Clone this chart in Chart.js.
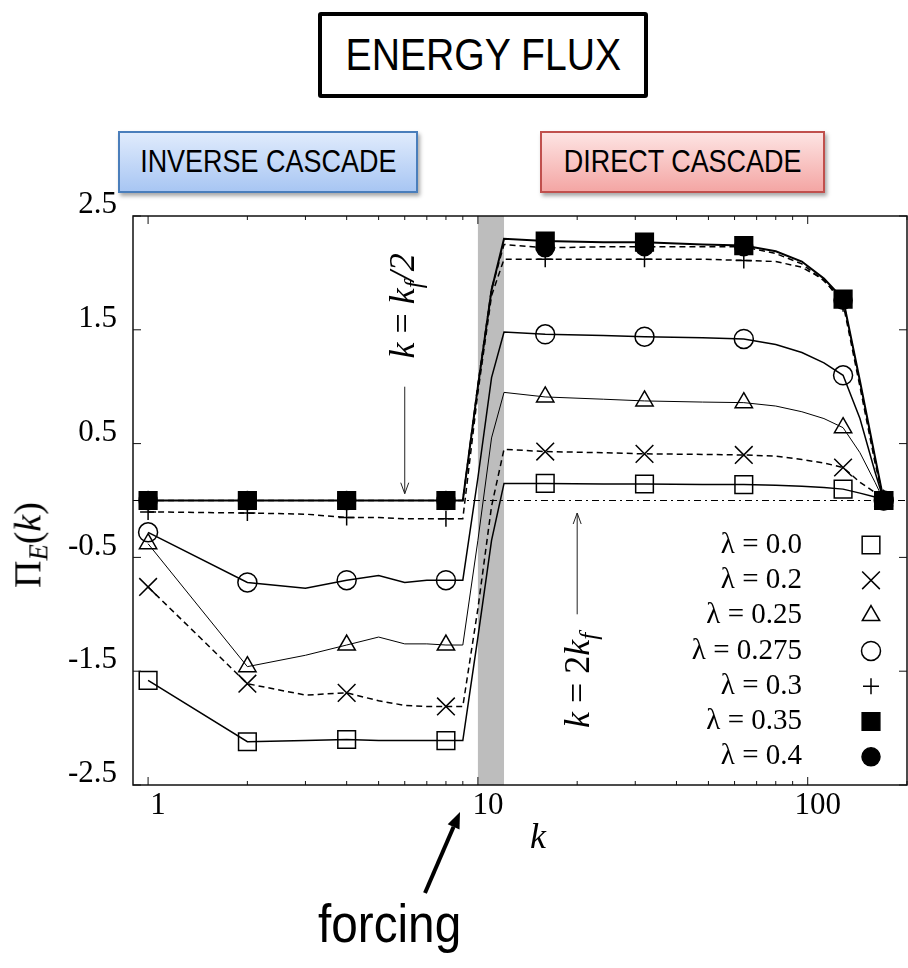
<!DOCTYPE html>
<html lang="en">
<head>
<meta charset="UTF-8">
<title>ENERGY FLUX</title>
<script src="https://cdn.jsdelivr.net/npm/chart.js@4.4.1/dist/chart.umd.min.js"></script>
<style>
  body { margin: 0; background: #fff; }
  .page { position: relative; width: 908px; height: 968px; overflow: hidden; font-family: "Liberation Sans", Arial, sans-serif; }
  .box { position: absolute; display: flex; align-items: center; justify-content: center; box-sizing: border-box; color: #000; }
  .box span, .forcing span { display: inline-block; white-space: nowrap; transform: scaleX(0.87); }
  .title-box { left: 318px; top: 12px; width: 330px; height: 86px; border: 4px solid #000; border-radius: 3px; font-size: 45px; background: #fff; }
  .inverse { left: 118px; top: 131px; width: 300px; height: 62px; border: 2px solid #4a7ebb; font-size: 31px;
             background: linear-gradient(#e0ebfc, #a8c6f3); box-shadow: 2px 3px 4px rgba(0,0,0,.35); }
  .direct { left: 540px; top: 131px; width: 285px; height: 62px; border: 2px solid #c0504d; font-size: 31px;
            background: linear-gradient(#fde4e3, #f4a6a4); box-shadow: 2px 3px 4px rgba(0,0,0,.35); }
  .chart-wrap { position: absolute; left: 0; top: 150px; width: 908px; height: 760px; }
  .serif { position: absolute; font-family: "Liberation Serif", "Times New Roman", serif; white-space: nowrap; line-height: 1; color: #000; }
  .ytitle { left: 30px; top: 545px; font-size: 38px; transform: translate(-50%, -50%) rotate(-90deg); }
  .ytitle sub { font-size: 0.7em; vertical-align: -0.25em; }
  .xtitle { left: 530px; top: 818px; font-size: 36px; font-style: italic; }
  .forcing { position: absolute; left: 318px; top: 897px; font-size: 53px; line-height: 1; }
  .forcing span { transform: scaleX(0.9); transform-origin: left center; }
  svg.overlay { position: absolute; left: 0; top: 0; }
</style>
</head>
<body>
<div class="page">
    <div class="box title-box"><span>ENERGY FLUX</span></div>
    <div class="box inverse"><span>INVERSE CASCADE</span></div>
    <div class="box direct"><span>DIRECT CASCADE</span></div>

    <div class="chart-wrap"><canvas id="fluxChart"></canvas></div>

    <div class="serif ytitle">&Pi;<sub><i>E</i></sub>(<i>k</i>)</div>
    <div class="serif xtitle">k</div>

    <div class="forcing"><span>forcing</span></div>
    <svg class="overlay" width="908" height="968">
        <line x1="425" y1="893" x2="453.6" y2="826.7" stroke="#000" stroke-width="4"/>
        <polygon points="460,812 459.5,829.5 447.7,824.3" fill="#000"/>
    </svg>
</div>

<script>
    // wavenumbers of the curves and the ones that carry a marker
    const kGrid = [1, 2, 3, 4, 5, 6, 7, 8, 9, 10, 11, 12, 16, 24, 32, 48, 64, 80, 96, 112, 128, 144, 160, 170];
    const markerK = [1, 2, 4, 8, 16, 32, 64, 128, 170];

    // Pi_E(k) for each lambda
    const flux00  = [-1.58, -2.12, -2.11, -2.10, -2.11, -2.11, -2.11, -2.11, -2.11, -1.20, -0.35, 0.15, 0.15, 0.145, 0.145, 0.14, 0.14, 0.135, 0.125, 0.115, 0.10, 0.065, 0.03, 0];
    const flux02  = [-0.76, -1.61, -1.71, -1.69, -1.76, -1.80, -1.81, -1.81, -1.81, -0.95, -0.05, 0.45, 0.43, 0.42, 0.41, 0.405, 0.40, 0.39, 0.36, 0.33, 0.29, 0.16, 0.07, 0];
    const flux025 = [-0.38, -1.46, -1.36, -1.27, -1.20, -1.26, -1.26, -1.27, -1.27, -0.35, 0.55, 0.95, 0.91, 0.89, 0.875, 0.865, 0.86, 0.83, 0.78, 0.72, 0.64, 0.42, 0.16, 0];
    const flux0275 = [-0.28, -0.72, -0.77, -0.70, -0.66, -0.72, -0.70, -0.70, -0.70, 0.20, 1.08, 1.48, 1.46, 1.45, 1.44, 1.43, 1.42, 1.37, 1.30, 1.21, 1.10, 0.72, 0.25, 0];
    const flux03  = [-0.10, -0.11, -0.12, -0.15, -0.15, -0.16, -0.16, -0.16, -0.16, 0.95, 1.80, 2.12, 2.12, 2.12, 2.12, 2.12, 2.11, 2.10, 2.05, 1.94, 1.73, 1.00, 0.33, 0];
    const flux035 = [0, 0, 0, 0, 0, 0, 0, 0, 0, 1.00, 1.85, 2.30, 2.28, 2.27, 2.27, 2.25, 2.24, 2.19, 2.10, 1.95, 1.77, 1.05, 0.38, 0];
    const flux04  = [0, 0, 0, 0, 0, 0, 0, 0, 0, 1.02, 1.86, 2.25, 2.22, 2.23, 2.23, 2.23, 2.23, 2.17, 2.08, 1.93, 1.76, 1.03, 0.36, 0];

    const lambdaLabels = ['λ = 0.0', 'λ = 0.2', 'λ = 0.25', 'λ = 0.275', 'λ = 0.3', 'λ = 0.35', 'λ = 0.4'];
    const xTicks = [1, 10, 100];
    const yTicks = [-2.5, -1.5, -0.5, 0.5, 1.5, 2.5];
    const forcingBand = [10, 12];   // shaded forcing range
    const kHalf = 6;                // k = kf/2 arrow
    const kDouble = 20;             // k = 2kf arrow

    const styles = [
        { values: flux00,   dash: [],     width: 1.5, point: 'rect',     size: 12.5, fill: 'rgba(0,0,0,0)' },
        { values: flux02,   dash: [6, 4], width: 1.5, point: 'crossRot', size: 12.5, fill: 'rgba(0,0,0,0)' },
        { values: flux025,  dash: [],     width: 1,   point: 'triangle', size: 10,   fill: 'rgba(0,0,0,0)' },
        { values: flux0275, dash: [],     width: 1.5, point: 'circle',   size: 9.5,  fill: 'rgba(0,0,0,0)' },
        { values: flux03,   dash: [6, 4], width: 1.5, point: 'cross',    size: 8,    fill: 'rgba(0,0,0,0)' },
        { values: flux035,  dash: [],     width: 2,   point: 'rect',     size: 12.5, fill: '#000' },
        { values: flux04,   dash: [6, 4], width: 1.5, point: 'circle',   size: 9,    fill: '#000' }
    ];

    const datasets = styles.map((s, i) => ({
        label: lambdaLabels[i],
        data: kGrid.map((k, j) => ({ x: k, y: s.values[j] })),
        borderColor: '#000',
        borderWidth: s.width,
        borderDash: s.dash,
        tension: 0,
        pointStyle: s.point,
        pointBackgroundColor: s.fill,
        pointBorderColor: '#000',
        pointBorderWidth: 1.5,
        pointRadius: c => markerK.includes(kGrid[c.dataIndex]) ? s.size : 0,
        markerSize: s.size
    }));

    const serif = '"Liberation Serif", "Times New Roman", serif';

    // rotated text made of pieces (for subscripts)
    function rotatedLabel(ctx, cx, cy, parts, size) {
        ctx.save();
        ctx.translate(cx, cy);
        ctx.rotate(-Math.PI / 2);
        ctx.textBaseline = 'middle';
        ctx.textAlign = 'left';
        let total = 0;
        const fonts = parts.map(p => {
            const f = (p.it ? 'italic ' : '') + (p.sub ? size * 0.7 : size) + 'px ' + serif;
            ctx.font = f;
            const w = ctx.measureText(p.t).width;
            total += w;
            return { f, w };
        });
        let pos = -total / 2;
        parts.forEach((p, i) => {
            ctx.font = fonts[i].f;
            ctx.fillText(p.t, pos, p.sub ? size * 0.3 : 0);
            pos += fonts[i].w;
        });
        ctx.restore();
    }

    function vArrow(ctx, x, yFrom, yTo) {
        const dir = yTo > yFrom ? 1 : -1;
        ctx.beginPath();
        ctx.moveTo(x, yFrom);
        ctx.lineTo(x, yTo);
        ctx.moveTo(x - 4, yTo - dir * 11);
        ctx.lineTo(x, yTo);
        ctx.lineTo(x + 4, yTo - dir * 11);
        ctx.stroke();
    }

    const fluxDecor = {
        id: 'fluxDecor',
        beforeDatasetsDraw(chart) {
            const { ctx, chartArea: a, scales: { x, y } } = chart;
            ctx.save();
            const x0 = x.getPixelForValue(forcingBand[0]);
            const x1 = x.getPixelForValue(forcingBand[1]);
            ctx.fillStyle = '#bdbdbd';
            ctx.fillRect(x0, a.top, x1 - x0, a.bottom - a.top);
            // dash-dot zero line
            const y0 = y.getPixelForValue(0);
            ctx.strokeStyle = '#000';
            ctx.lineWidth = 1;
            ctx.setLineDash([7, 4, 2, 4]);
            ctx.beginPath();
            ctx.moveTo(a.left, y0);
            ctx.lineTo(a.right, y0);
            ctx.stroke();
            ctx.restore();
        },
        afterDatasetsDraw(chart) {
            const { ctx, chartArea: a, scales: { x, y } } = chart;
            ctx.save();
            ctx.strokeStyle = '#111';
            ctx.lineWidth = 1.5;
            ctx.strokeRect(a.left, a.top, a.right - a.left, a.bottom - a.top);

            // inward ticks
            ctx.lineWidth = 1;
            ctx.beginPath();
            yTicks.forEach(v => {
                const p = y.getPixelForValue(v);
                ctx.moveTo(a.left, p); ctx.lineTo(a.left + 8, p);
                ctx.moveTo(a.right, p); ctx.lineTo(a.right - 8, p);
            });
            for (let d = 1; d <= 100; d *= 10) {
                for (let m = 1; m <= 9; m++) {
                    const v = d * m;
                    if (v > x.max) break;
                    const p = x.getPixelForValue(v);
                    const len = m === 1 ? 8 : 4;
                    ctx.moveTo(p, a.bottom); ctx.lineTo(p, a.bottom - len);
                    ctx.moveTo(p, a.top); ctx.lineTo(p, a.top + len);
                }
            }
            ctx.stroke();

            // annotations
            ctx.fillStyle = '#000';
            ctx.strokeStyle = '#222';
            ctx.lineWidth = 1;
            const xh = x.getPixelForValue(kHalf);
            vArrow(ctx, xh, y.getPixelForValue(1.0), y.getPixelForValue(0.06));
            rotatedLabel(ctx, xh, y.getPixelForValue(1.71), [
                { t: 'k', it: true }, { t: ' = ' }, { t: 'k', it: true }, { t: 'f', it: true, sub: true }, { t: '/2', it: true }
            ], 36);
            const xd = x.getPixelForValue(kDouble);
            vArrow(ctx, xd, y.getPixelForValue(-1.0), y.getPixelForValue(-0.11));
            rotatedLabel(ctx, xd + 2, y.getPixelForValue(-1.58), [
                { t: 'k', it: true }, { t: ' = 2' }, { t: 'k', it: true }, { t: 'f', it: true, sub: true }
            ], 36);

            // legend, markers on the right of the labels
            ctx.font = '29px ' + serif;
            ctx.textAlign = 'right';
            ctx.textBaseline = 'middle';
            chart.data.datasets.forEach((ds, i) => {
                const yy = a.bottom - 240 + i * 35.3;
                ctx.fillStyle = '#000';
                ctx.fillText(ds.label, a.right - 105, yy);
                ctx.fillStyle = ds.pointBackgroundColor;
                ctx.strokeStyle = '#000';
                ctx.lineWidth = 1.5;
                ctx.setLineDash([]);
                Chart.helpers.drawPoint(ctx, {
                    pointStyle: ds.pointStyle, radius: ds.markerSize, rotation: 0, borderWidth: 1.5
                }, a.right - 36, yy);
            });
            ctx.restore();
        }
    };

    new Chart(document.getElementById('fluxChart'), {
        type: 'line',
        data: { datasets: datasets },
        options: {
            responsive: true,
            maintainAspectRatio: false,
            animation: false,
            events: [],
            layout: { autoPadding: false, padding: { top: 66, right: 1, bottom: 65, left: 0 } },
            plugins: { legend: { display: false }, tooltip: { enabled: false } },
            scales: {
                x: {
                    type: 'logarithmic',
                    min: 0.9,
                    max: 200,
                    grid: { display: false, drawTicks: false },
                    border: { display: false },
                    afterBuildTicks: s => { s.ticks = xTicks.map(v => ({ value: v })); },
                    afterFit: s => { s.height = 60; },
                    ticks: {
                        autoSkip: false,
                        maxRotation: 0,
                        padding: 2,
                        labelOffset: 10,
                        color: '#000',
                        font: { family: serif, size: 31 },
                        callback: v => String(v)
                    }
                },
                y: {
                    min: -2.5,
                    max: 2.5,
                    grid: { display: false, drawTicks: false },
                    border: { display: false },
                    afterBuildTicks: s => { s.ticks = yTicks.map(v => ({ value: v })); },
                    afterFit: s => { s.width = 133; },
                    ticks: {
                        autoSkip: false,
                        padding: 16,
                        labelOffset: -11,
                        color: '#000',
                        font: { family: serif, size: 31 },
                        callback: v => v.toFixed(1)
                    }
                }
            }
        },
        plugins: [fluxDecor]
    });
</script>
</body>
</html>
